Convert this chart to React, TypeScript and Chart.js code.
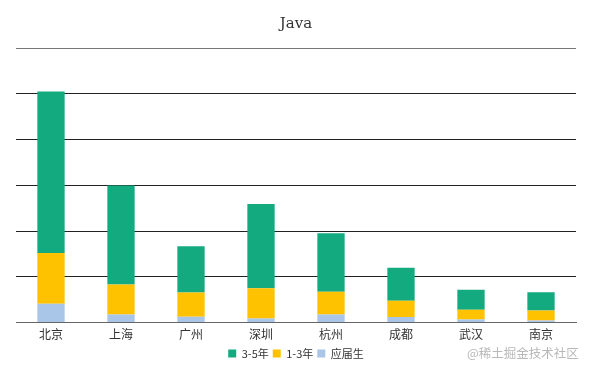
import React, { useEffect, useRef } from "react";
import { Chart, registerables } from "chart.js";

Chart.register(...registerables);

const cities = ["北京", "上海", "广州", "深圳", "杭州", "成都", "武汉", "南京"];
const fresh = [410, 175, 130, 90, 175, 120, 70, 45];
const oneToThree = [1110, 660, 530, 660, 500, 360, 210, 220];
const threeToFive = [3530, 2160, 1010, 1840, 1280, 720, 440, 400];

const FONT = "'Noto Sans CJK SC', 'Noto Sans', sans-serif";

export default function App() {
  const ref = useRef<HTMLCanvasElement | null>(null);
  useEffect(() => {
    if (!ref.current) return;
    const chart = new Chart(ref.current, {
      type: "bar",
      data: {
        labels: cities,
        datasets: [
          { label: "应届生", data: fresh, backgroundColor: "#A9C5E8", stack: "s" },
          { label: "1-3年", data: oneToThree, backgroundColor: "#FFC200", stack: "s" },
          { label: "3-5年", data: threeToFive, backgroundColor: "#14AA80", stack: "s" },
        ],
      },
      options: {
        animation: false,
        responsive: false,
        layout: { padding: { left: 16, right: 14, top: 4, bottom: 1 } },
        datasets: { bar: { barPercentage: 0.39, categoryPercentage: 1 } } as any,
        scales: {
          x: {
            stacked: true,
            grid: { display: false },
            border: { display: true, color: "#666", width: 1 },
            ticks: { color: "#333", font: { family: FONT, size: 12 }, padding: -3 },
            afterFit: (scale: any) => {
              scale.height = scale.height + 5;
            },
          },
          y: {
            stacked: true,
            min: 0,
            max: 6000,
            ticks: { display: false, stepSize: 1000 },
            border: { display: false },
            grid: {
              drawTicks: false,
              color: (ctx: any) => (ctx.index === 6 || ctx.index === 0 ? "#777" : "#222"),
              lineWidth: 1,
            },
          },
        },
        plugins: {
          title: {
            display: true,
            text: "Java",
            color: "#333",
            font: { family: "'DejaVu Serif', serif", size: 15, weight: "normal" },
            padding: { top: 11, bottom: 15 },
          },
          legend: {
            position: "bottom",
            reverse: true,
            labels: {
              boxWidth: 8,
              boxHeight: 8,
              padding: 4,
              color: "#333",
              font: { family: FONT, size: 11 },
            },
          },
          tooltip: { enabled: false },
        },
      },
    });
    return () => chart.destroy();
  }, []);
  return (
    <div style={{ position: "fixed", left: 0, top: 0, width: 590, height: 370, background: "#fff" }}>
      <canvas ref={ref} width={590} height={370} />
      <span
        style={{
          position: "absolute",
          left: 467,
          top: 343,
          fontFamily: FONT,
          fontSize: 12.5,
          color: "#b8b8b8",
          whiteSpace: "nowrap",
        }}
      >
        @稀土掘金技术社区
      </span>
    </div>
  );
}
